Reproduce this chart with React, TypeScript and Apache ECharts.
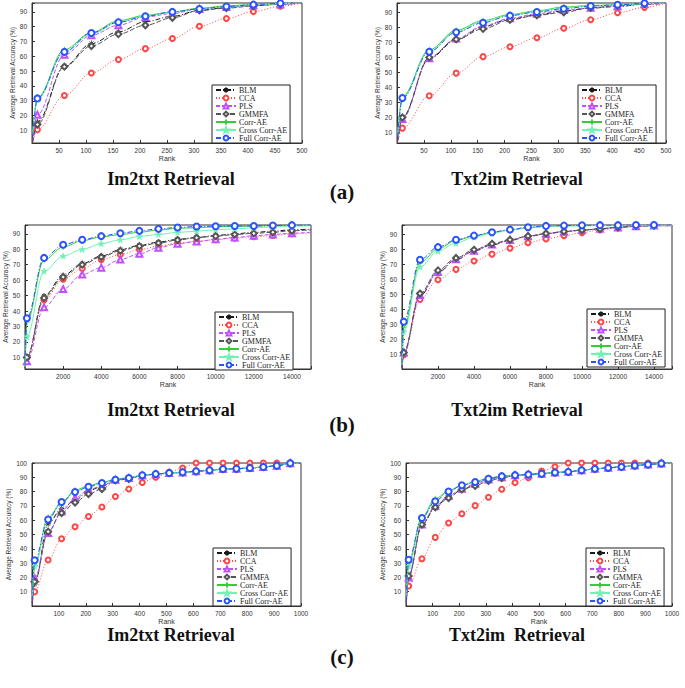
import React, { useEffect, useRef } from 'react';
import * as echarts from 'echarts';

const methods = ['BLM', 'CCA', 'PLS', 'GMMFA', 'Corr-AE', 'Cross Corr-AE', 'Full Corr-AE'];

// (a) ranks and accuracy values
const ranksA = [1, 10, 60, 110, 160, 210, 260, 310, 360, 410, 460, 500];
const aIm2txt = [
  [2, 15.7, 53.3, 68.6, 76.5, 83.4, 87, 91, 93, 94.5, 95.3, 96],
  [1.5, 10.5, 33.6, 48.8, 57.8, 65.2, 72, 80.3, 85.5, 90.2, 93.8, 96],
  [3, 20.6, 61, 74.2, 81, 86.6, 88.9, 92, 93.3, 94.3, 95, 96],
  [2, 14, 53, 67, 75, 81, 86, 91, 92.5, 94, 95.3, 96],
  [8, 32, 64.5, 76, 84, 87.7, 90, 92.5, 94, 95, 95.8, 96],
  [7, 31, 63, 75, 83, 87, 89.8, 92, 93.5, 94.8, 95.5, 96],
  [6, 31.6, 63, 75.8, 83, 87, 90, 92, 93.6, 94.9, 95.8, 96],
];
const aTxt2im = [
  [4, 20.2, 59.2, 71.6, 80.4, 85.5, 88.2, 91, 92.8, 93.9, 95.4, 96],
  [3, 12.9, 34.4, 49.5, 60.5, 67.1, 73.1, 79.4, 85.1, 89.7, 93.3, 96],
  [4, 19, 59.5, 72.5, 81, 86, 89, 91.5, 93, 94, 95.5, 96],
  [4, 20, 60, 72, 79, 85, 88, 90, 93, 94.5, 95.5, 96],
  [9, 34, 65, 78, 84.5, 88.5, 91, 93.5, 94.5, 95, 95.8, 96],
  [8, 33, 64, 77, 84, 88, 90.5, 93, 94.3, 95, 95.8, 96],
  [7, 32.9, 63.8, 76.7, 83.1, 87.8, 90.2, 92.4, 94.2, 95, 96, 96.2],
];

// (b)
const ranksB = [1, 100, 1000, 2000, 3000, 4000, 5000, 6000, 7000, 8000, 9000, 10000, 11000, 12000, 13000, 14000, 15000];
const bIm2txt = [
  [3, 10, 49.7, 63, 70.7, 75.6, 79.7, 82.5, 84.6, 86.4, 87.6, 88.9, 90, 90.9, 91.7, 92.6, 93],
  [3, 10, 47.1, 60.6, 67.5, 73.3, 76.6, 79.8, 81.9, 84, 85.1, 86.1, 87.2, 88.1, 88.9, 90, 90.5],
  [2.5, 7.5, 42.4, 54.2, 63.6, 68.1, 73.3, 77.1, 81, 83.6, 85, 86.4, 87.6, 88.7, 89.6, 90.4, 91],
  [3, 10, 48.5, 62, 70, 75, 79, 82, 84, 86, 87.5, 88.5, 89.5, 90.3, 91, 92, 92.5],
  [4, 33, 73, 81.5, 85.5, 88, 89.5, 91, 92.5, 93.5, 94, 94.5, 94.8, 95, 95.2, 95.4, 95.5],
  [4, 23.5, 65.8, 75.6, 79.9, 83.6, 86.1, 88.3, 89.6, 90.9, 91.7, 92.6, 93.2, 93.9, 94.5, 95, 95.2],
  [5, 35.3, 74.4, 82.9, 86.1, 88.5, 90.4, 91.9, 93.2, 94.1, 94.7, 94.9, 95.1, 95.1, 95.4, 95.6, 95.7],
];
const bTxt2im = [
  [1, 11, 48.8, 64.5, 73.1, 78.9, 83.1, 86, 88.7, 90.4, 92, 92.9, 93.8, 94.9, 95.5, 96, 96],
  [0.5, 9.5, 46.5, 59.8, 66.7, 72.3, 76.9, 80.9, 84.5, 87.1, 89.3, 91.3, 93.1, 94.4, 95.5, 96, 96],
  [1, 11, 49.5, 65, 73.5, 79.2, 83.4, 86.3, 88.8, 90.6, 92, 93, 93.9, 94.8, 95.5, 96, 96],
  [1, 11, 50.5, 66, 74.3, 79.8, 83.8, 86.5, 89, 90.7, 92, 93, 93.8, 94.9, 95.8, 96, 96],
  [3, 28, 71, 80.5, 86, 89, 91.3, 93, 94.5, 95.5, 95.8, 96, 96, 96, 96, 96, 96],
  [3, 25, 68.3, 78.9, 84.2, 88.2, 90.9, 93.1, 94.7, 95.5, 95.8, 95.9, 96, 96, 96, 96, 96],
  [4, 31.7, 73.1, 81.6, 86.5, 89.3, 91.6, 93.3, 94.9, 95.8, 96, 96.2, 96.3, 96.3, 96.4, 96.4, 96.4],
];

// (c)
const ranksC = [1, 10, 60, 110, 160, 210, 260, 310, 360, 410, 460, 510, 560, 610, 660, 710, 760, 810, 860, 910, 960, 1000];
const cIm2txt = [
  [2, 15.4, 57.5, 68, 73.8, 80.6, 83.6, 88.3, 89.5, 91.3, 92.2, 93, 93.4, 94.2, 94.9, 95.8, 96, 96.5, 97.2, 98.1, 99.8, 100],
  [1, 10, 32.2, 47, 55.4, 62.6, 69.2, 76.6, 81.8, 86.4, 90, 93.5, 96.5, 100, 100, 100, 100, 100, 100, 100, 100, 100],
  [3, 19.4, 51, 66, 75.5, 81.3, 84, 88.3, 89.5, 91.3, 92.2, 93, 93.4, 94.2, 94.9, 95.8, 96, 96.5, 97.2, 98.1, 99.8, 100],
  [2, 17, 52, 65, 72.4, 78.3, 81.8, 87.9, 88.8, 91.2, 92.2, 93, 93.4, 94.2, 94.9, 95.8, 96, 96.5, 97.2, 98.1, 99.8, 100],
  [6, 28, 62, 72, 81, 84, 86.5, 88.5, 89.8, 91.4, 92.3, 93, 93.4, 94.2, 94.9, 95.6, 96, 96.5, 97.2, 98.1, 99.8, 100],
  [6, 28, 61, 71.5, 80, 83.5, 86, 88.3, 89.6, 91.3, 92.2, 93, 93.4, 94.1, 94.8, 95.6, 96, 96.5, 97.2, 98.1, 99.8, 100],
  [4, 32, 60.5, 72.7, 79.7, 83.4, 86, 88.3, 89.5, 91.4, 92.3, 93, 93.5, 94.2, 94.9, 95.8, 96, 96.5, 97.2, 98.1, 99.8, 100],
];
const cTxt2im = [
  [2, 21, 56.5, 68.6, 77.1, 81, 85.1, 89, 90.2, 91.5, 92, 92.5, 93.3, 93.8, 94.9, 95.9, 96.6, 97.3, 98.2, 98.9, 99.7, 100],
  [1, 14, 33, 48, 58, 64.5, 70.2, 76, 81.7, 86.3, 89.7, 94.3, 97.3, 100, 100, 100, 100, 100, 100, 100, 100, 100],
  [2, 20, 57, 70, 77, 82, 85.5, 88.5, 90, 91.4, 92, 92.5, 93.3, 93.8, 94.9, 95.9, 96.6, 97.3, 98.2, 98.9, 99.7, 100],
  [2, 21, 57, 69, 75.5, 81.5, 84, 87.5, 89.5, 91.3, 92, 92.5, 93.3, 93.8, 94.9, 95.9, 96.6, 97.3, 98.2, 98.9, 99.7, 100],
  [6, 30, 62, 75, 80.5, 84.5, 87, 89.5, 90.8, 91.5, 92, 92.5, 93.3, 93.8, 94.9, 95.9, 96.6, 97.3, 98.2, 98.9, 99.7, 100],
  [6, 28, 61, 74, 80, 84.2, 86.5, 89.2, 90.6, 91.5, 92, 92.5, 93.3, 93.8, 94.9, 95.9, 96.6, 97.3, 98.2, 98.9, 99.7, 100],
  [4, 32.4, 61.5, 73.2, 80.1, 84.4, 86.7, 89, 90.8, 91.5, 92, 92.5, 93.3, 93.8, 94.9, 95.9, 96.6, 97.3, 98.2, 98.9, 99.7, 100],
];

const titleIm = 'Im2txt Retrieval';
const titleTxt = 'Txt2im Retrieval';
const titleTxtC = 'Txt2im  Retrieval';
const panelLabels = ['(a)', '(b)', '(c)'];
const yName = 'Average Retrieval Accuracy (%)';
const xName = 'Rank';

const asterisk = 'path://M0,-10L0,10M-10,0L10,0M-7,-7L7,7M-7,7L7,-7';
const plus = 'path://M0,-10L0,10M-10,0L10,0';
const star = 'path://M0,-1L0.2245,-0.309L0.951,-0.309L0.363,0.118L0.588,0.809L0,0.382L-0.588,0.809L-0.363,0.118L-0.951,-0.309L-0.2245,-0.309Z';

const styles = [
  { color: '#1a1a1a', type: [5, 2, 1, 2], symbol: asterisk, size: 6 },
  { color: '#ff4545', type: [1, 2], symbol: 'emptyCircle', size: 5 },
  { color: '#c050ff', type: [4, 2], symbol: 'emptyTriangle', size: 6 },
  { color: '#555555', type: [5, 2], symbol: 'emptyDiamond', size: 6 },
  { color: '#2fd02f', type: 'solid', symbol: plus, size: 6 },
  { color: '#6ff2b4', type: 'solid', symbol: star, size: 6 },
  { color: '#2a52ff', type: [5, 2, 1, 2], symbol: 'emptyCircle', size: 6 },
];

const panels = [
  { grid: { left: 32, top: 3, width: 270, height: 140 }, ranks: ranksA, data: aIm2txt, xMax: 500, xInt: 50, yMin: 1.5, yMax: 96, legend: { left: 212, bottom: 545 } },
  { grid: { left: 397, top: 3, width: 269, height: 140 }, ranks: ranksA, data: aTxt2im, xMax: 500, xInt: 50, yMin: 3, yMax: 96.2, legend: { left: 578, bottom: 545 } },
  { grid: { left: 25, top: 225, width: 286, height: 144 }, ranks: ranksB, data: bIm2txt, xMax: 15000, xInt: 2000, yMin: 2.5, yMax: 95.7, legend: { left: 215, bottom: 318 } },
  { grid: { left: 402, top: 225, width: 270, height: 144 }, ranks: ranksB, data: bTxt2im, xMax: 15000, xInt: 2000, yMin: 0, yMax: 96.4, legend: { left: 587, bottom: 321 } },
  { grid: { left: 32, top: 463, width: 269, height: 143 }, ranks: ranksC, data: cIm2txt, xMax: 1000, xInt: 100, yMin: 0, yMax: 100, legend: { left: 213, bottom: 82 } },
  { grid: { left: 406, top: 463, width: 266, height: 143 }, ranks: ranksC, data: cTxt2im, xMax: 1000, xInt: 100, yMin: 0, yMax: 100, legend: { left: 586, bottom: 82 } },
];

const sans = 'Liberation Sans';
const serif = 'Liberation Serif';

export default function App() {
  const ref = useRef<HTMLDivElement>(null);
  useEffect(() => {
    const chart = echarts.init(ref.current!, null, { renderer: 'svg' });
    const grids: any[] = [];
    const xAxes: any[] = [];
    const yAxes: any[] = [];
    const legends: any[] = [];
    const series: any[] = [];
    panels.forEach((p, pi) => {
      grids.push({ ...p.grid, show: true, borderColor: '#333', borderWidth: 1, backgroundColor: '#fff', containLabel: false });
      xAxes.push({
        type: 'value', gridIndex: pi, min: 0, max: p.xMax, interval: p.xInt,
        name: xName, nameLocation: 'middle', nameGap: 12,
        nameTextStyle: { fontSize: 7, fontFamily: sans, color: '#333' },
        axisLine: { show: true, lineStyle: { color: '#333', width: 1 } },
        axisTick: { show: true, inside: true, length: 3, lineStyle: { color: '#333' } },
        splitLine: { show: false },
        axisLabel: {
          fontSize: 6.5, fontFamily: sans, color: '#333', margin: 4,
          showMinLabel: false,
          formatter: (v: number) => (v > 0 && v < 15000 && Math.abs(v % p.xInt) < 1e-6 ? String(v) : ''),
        },
      });
      yAxes.push({
        type: 'value', gridIndex: pi, min: p.yMin, max: p.yMax, splitNumber: 10,
        name: yName, nameLocation: 'middle', nameGap: 16,
        nameTextStyle: { fontSize: 6.5, fontFamily: sans, color: '#333' },
        axisLine: { show: true, lineStyle: { color: '#333', width: 1 } },
        axisTick: { show: true, inside: true, length: 3, lineStyle: { color: '#333' } },
        splitLine: { show: false },
        axisLabel: {
          fontSize: 6.5, fontFamily: sans, color: '#333', margin: 5,
          showMinLabel: false,
          formatter: (v: number) => (v > 0 && Math.abs(v % 10) < 1e-6 ? String(v) : ''),
        },
      });
      legends.push({
        left: p.legend.left, bottom: p.legend.bottom, orient: 'vertical',
        data: methods, backgroundColor: '#fff', borderColor: '#222', borderWidth: 1,
        padding: [1, 3, 1, 3], itemGap: 0, itemWidth: 20, itemHeight: 6,
        textStyle: { fontSize: 8, lineHeight: 8, fontFamily: serif, color: '#222', padding: [0, 0, 0, -2] },
        selectedMode: false,
      });
      methods.forEach((m, mi) => {
        const st = styles[mi];
        const vals = p.data[mi];
        const last = vals.length - 1;
        series.push({
          type: 'line', name: m, xAxisIndex: pi, yAxisIndex: pi,
          smooth: 0.35, smoothMonotone: 'x',
          symbol: st.symbol, symbolSize: st.size, showSymbol: true,
          lineStyle: { color: st.color, width: 1, type: st.type },
          itemStyle: { color: st.color, borderColor: st.color, borderWidth: 0.8 },
          emphasis: { disabled: true },
          z: 2 + mi,
          data: vals.map((v, i) => (i === 0 || i === last ? { value: [p.ranks[i], v], symbol: 'none' } : [p.ranks[i], v])),
        });
      });
    });
    const titleStyle = { font: `bold 18px "${serif}"`, fill: '#111', textAlign: 'center', textVerticalAlign: 'middle' } as any;
    const labelStyle = { font: `bold 21px "${serif}"`, fill: '#111', textAlign: 'center', textVerticalAlign: 'middle' } as any;
    const rows = [
      { ty: 179, ly: 192, right: titleTxt },
      { ty: 410, ly: 425, right: titleTxt },
      { ty: 635, ly: 657, right: titleTxtC },
    ];
    const graphic: any[] = [];
    rows.forEach((r, i) => {
      graphic.push({ type: 'text', x: 171, y: r.ty, style: { ...titleStyle, text: titleIm } });
      graphic.push({ type: 'text', x: 517, y: r.ty, style: { ...titleStyle, text: r.right } });
      graphic.push({ type: 'text', x: 342, y: r.ly, style: { ...labelStyle, text: panelLabels[i] } });
    });
    chart.setOption({
      animation: false,
      backgroundColor: '#fff',
      grid: grids, xAxis: xAxes, yAxis: yAxes, legend: legends, series, graphic,
    });
    return () => chart.dispose();
  }, []);
  return <div ref={ref} style={{ width: 685, height: 688, position: 'absolute', left: 0, top: 0 }} />;
}
